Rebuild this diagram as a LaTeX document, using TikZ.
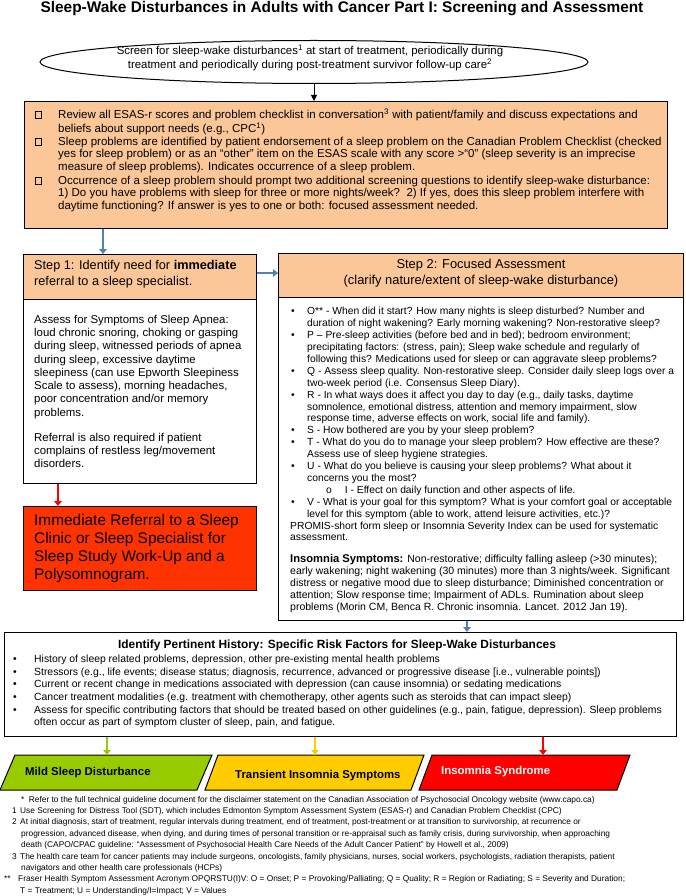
\documentclass[tikz,border=0pt]{standalone}
\usepackage{fontspec}
\setmainfont{Liberation Sans}
\usetikzlibrary{arrows.meta,shapes.geometric}
\definecolor{peach}{HTML}{FBC799}
\definecolor{arrowblue}{HTML}{4F81BD}
\definecolor{alertred}{HTML}{FF3300}
\definecolor{mildgreen}{HTML}{99CC00}
\definecolor{transyellow}{HTML}{FFCC00}
\definecolor{synred}{HTML}{FF0000}
\begin{document}
\begin{tikzpicture}[x=1pt,y=-1pt,
  box/.style={draw=black, line width=1pt, inner sep=0pt, anchor=north west},
  txt/.style={inner sep=0pt, anchor=north west},
  chk/.style={draw=black, line width=0.7pt, minimum size=6.5pt, inner sep=0pt},
  karrow/.style={draw=black, line width=1pt, -{Triangle[width=6pt,length=6pt]}},
  barrow/.style={draw=arrowblue, line width=2.2pt, -{Triangle[width=7.5pt,length=5pt]}},
  carrow/.style={line width=2.2pt, -{Triangle[width=7.5pt,length=5pt]}},
  para/.style={draw=black, line width=1pt}
]
\useasboundingbox (0,0) rectangle (685,896);
\fill[white] (0,0) rectangle (685,896);

% title
\node[inner sep=0pt, font=\fontsize{15.4}{17}\selectfont\bfseries] (title) at (342,9) {Sleep-Wake Disturbances in Adults with Cancer Part I: Screening and Assessment};

% ellipse
\node[draw=black, line width=1pt, ellipse, minimum width=548pt, minimum height=43pt, inner sep=0pt] (ell) at (314,62) {};
\node[inner sep=0pt, font=\fontsize{11.4}{13}\selectfont] (elltext) at (310,58.5) {\begin{tabular}{@{}c@{}}Screen for sleep-wake disturbances\textsuperscript{1} at start of treatment, periodically during\\ treatment and periodically during post-treatment survivor follow-up care\textsuperscript{2}\end{tabular}};

% orange screening box
\node[box, fill=peach, minimum width=643pt, minimum height=127pt] (obox) at (24,101) {};
\draw[karrow] (ell.south) -- (obox.north -| ell.south);
\node[chk] (cb1) at (38.5,115) {};
\node[chk] (cb2) at (38.5,142) {};
\node[chk] (cb3) at (38.5,181) {};
\node[txt, font=\fontsize{11.5}{12.9}\selectfont] (it1) at (58,108.8) {\begin{tabular}{@{}l@{}}Review all ESAS-r scores and problem checklist in conversation\textsuperscript{3} with patient/family and discuss expectations and\\ beliefs about support needs (e.g., CPC\textsuperscript{1})\end{tabular}};
\node[txt, font=\fontsize{11.5}{12.9}\selectfont] (it2) at (58,135.8) {\begin{tabular}{@{}l@{}}Sleep problems are identified by patient endorsement of a sleep problem on the Canadian Problem Checklist (checked\\ yes for sleep problem) or as an “other” item on the ESAS scale with any score >“0” (sleep severity is an imprecise\\ measure of sleep problems). Indicates occurrence of a sleep problem.\end{tabular}};
\node[txt, font=\fontsize{11.5}{12.9}\selectfont] (it3) at (58,174.8) {\begin{tabular}{@{}l@{}}Occurrence of a sleep problem should prompt two additional screening questions to identify sleep-wake disturbance:\\ 1) Do you have problems with sleep for three or more nights/week?\ \ 2) If yes, does this sleep problem interfere with\\ daytime functioning? If answer is yes to one or both: focused assessment needed.\end{tabular}};

% step 1
\node[box, fill=peach, minimum width=233pt, minimum height=45pt] (s1head) at (23,254) {};
\node[box, fill=white, minimum width=233pt, minimum height=184pt] (s1body) at (23,299) {};
\node[txt, font=\fontsize{12.7}{16}\selectfont] (s1htext) at (34,257.9) {\begin{tabular}{@{}l@{}}Step 1: Identify need for \textbf{immediate}\\ referral to a sleep specialist.\end{tabular}};
\node[txt, font=\fontsize{11.4}{13.3}\selectfont] (s1btext) at (34,313.6) {\begin{tabular}{@{}l@{}}Assess for Symptoms of Sleep Apnea:\\ loud chronic snoring, choking or gasping\\ during sleep, witnessed periods of apnea\\ during sleep, excessive daytime\\ sleepiness (can use Epworth Sleepiness\\ Scale to assess), morning headaches,\\ poor concentration and/or memory\\ problems.\\[11.5pt] Referral is also required if patient\\ complains of restless leg/movement\\ disorders.\end{tabular}};
\coordinate (c1) at (103,0);
\draw[barrow] (obox.south -| c1) -- (s1head.north -| c1);

% red referral box
\node[box, fill=alertred, minimum width=233pt, minimum height=84pt] (redbox) at (23,506) {};
\node[txt, font=\fontsize{15.4}{18}\selectfont] (redtext) at (34,512.3) {\begin{tabular}{@{}l@{}}Immediate Referral to a Sleep\\ Clinic or Sleep Specialist for\\ Sleep Study Work-Up and a\\ Polysomnogram.\end{tabular}};
\coordinate (c3) at (58,0);
\draw[carrow, draw=synred] (s1body.south -| c3) -- (redbox.north -| c3);

% step 2
\node[box, fill=peach, minimum width=405pt, minimum height=44pt] (s2head) at (278,253) {};
\node[box, fill=white, minimum width=405pt, minimum height=323pt] (s2body) at (278,297) {};
\node[inner sep=0pt, font=\fontsize{12.9}{16}\selectfont] (s2htext) at (481,273) {\begin{tabular}{@{}c@{}}Step 2: Focused Assessment\\ (clarify nature/extent of sleep-wake disturbance)\end{tabular}};
\coordinate (c2) at (0,273);
\draw[barrow] (s1head.east |- c2) -- (s2head.west |- c2);
\node[txt, font=\fontsize{10.3}{11.9}\selectfont] (s2btext) at (290,306.3) {\begin{tabular}{@{}p{17pt}@{}l@{}}
\hspace{1pt}\textbullet & O** - When did it start? How many nights is sleep disturbed? Number and\\
 & duration of night wakening? Early morning wakening? Non-restorative sleep?\\
\hspace{1pt}\textbullet & P – Pre-sleep activities (before bed and in bed); bedroom environment;\\
 & precipitating factors: (stress, pain); Sleep wake schedule and regularly of\\
 & following this? Medications used for sleep or can aggravate sleep problems?\\
\hspace{1pt}\textbullet & Q - Assess sleep quality. Non-restorative sleep. Consider daily sleep logs over a\\
 & two-week period (i.e. Consensus Sleep Diary).\\
\hspace{1pt}\textbullet & R - In what ways does it affect you day to day (e.g., daily tasks, daytime\\
 & somnolence, emotional distress, attention and memory impairment, slow\\
 & response time, adverse effects on work, social life and family).\\
\hspace{1pt}\textbullet & S - How bothered are you by your sleep problem?\\
\hspace{1pt}\textbullet & T - What do you do to manage your sleep problem? How effective are these?\\
 & Assess use of sleep hygiene strategies.\\
\hspace{1pt}\textbullet & U - What do you believe is causing your sleep problems? What about it\\
 & concerns you the most?\\
 & \hspace{19pt}o\hspace{13pt}I - Effect on daily function and other aspects of life.\\
\hspace{1pt}\textbullet & V - What is your goal for this symptom? What is your comfort goal or acceptable\\
 & level for this symptom (able to work, attend leisure activities, etc.)?\\
\multicolumn{2}{@{}l@{}}{PROMIS-short form sleep or Insomnia Severity Index can be used for systematic}\\
\multicolumn{2}{@{}l@{}}{assessment.}
\end{tabular}};
\node[txt, font=\fontsize{10.5}{12}\selectfont] (insom) at (290,554.2) {\begin{tabular}{@{}l@{}}{\fontsize{11.2}{12}\selectfont\bfseries Insomnia Symptoms:} Non-restorative; difficulty falling asleep (>30 minutes);\\ early wakening; night wakening (30 minutes) more than 3 nights/week. Significant\\ distress or negative mood due to sleep disturbance; Diminished concentration or\\ attention; Slow response time; Impairment of ADLs. Rumination about sleep\\ problems (Morin CM, Benca R. Chronic insomnia. Lancet. 2012 Jan 19).\end{tabular}};

% risk factors
\node[box, fill=white, minimum width=672pt, minimum height=104pt] (risk) at (4,632) {};
\coordinate (c4) at (467,0);
\draw[barrow] (s2body.south -| c4) -- (risk.north -| c4);
\node[anchor=base, inner sep=0pt, font=\fontsize{11.9}{13}\selectfont\bfseries] (risktitle) at (337,648.5) {Identify Pertinent History: Specific Risk Factors for Sleep-Wake Disturbances};
\node[txt, font=\fontsize{10.4}{12.6}\selectfont] (risktext) at (13,653.6) {\begin{tabular}{@{}p{21pt}@{}l@{}}
\textbullet & History of sleep related problems, depression, other pre-existing mental health problems\\
\textbullet & Stressors (e.g., life events; disease status; diagnosis, recurrence, advanced or progressive disease [i.e., vulnerable points])\\
\textbullet & Current or recent change in medications associated with depression (can cause insomnia) or sedating medications\\
\textbullet & Cancer treatment modalities (e.g. treatment with chemotherapy, other agents such as steroids that can impact sleep)\\
\textbullet & Assess for specific contributing factors that should be treated based on other guidelines (e.g., pain, fatigue, depression). Sleep problems\\
 & often occur as part of symptom cluster of sleep, pain, and fatigue.
\end{tabular}};

% outcome shapes
\draw[para, fill=mildgreen] (0,790) -- (15,755) -- (212,755) -- (197,790) -- cycle;
\draw[para, fill=transyellow] (205,790) -- (218,755) -- (424,755) -- (411,790) -- cycle;
\draw[para, fill=synred] (419,790) -- (432,755) -- (630,755) -- (617,790) -- cycle;
\coordinate (mildtop) at (107,755);
\coordinate (transtop) at (315,755);
\coordinate (syntop) at (543,755);
\draw[carrow, draw=mildgreen] (risk.south -| mildtop) -- (mildtop);
\draw[carrow, draw=transyellow] (risk.south -| transtop) -- (transtop);
\draw[carrow, draw=synred] (risk.south -| syntop) -- (syntop);
\node[anchor=base west, inner sep=0pt, font=\fontsize{11.4}{12}\selectfont\bfseries] (mildtext) at (25,775.5) {Mild Sleep Disturbance};
\node[anchor=base west, inner sep=0pt, font=\fontsize{11.4}{12}\selectfont\bfseries] (transtext) at (235,778) {Transient Insomnia Symptoms};
\node[anchor=base west, inner sep=0pt, font=\fontsize{11.4}{12}\selectfont\bfseries, text=white] (syntext) at (441,774.5) {Insomnia Syndrome};

% footnotes
\node[txt, font=\fontsize{8.35}{11.4}\selectfont] (notes) at (4,794) {\begin{tabular}{@{}p{16pt}@{}l@{}}
 & \hspace{1pt}*\hspace{4.5pt}Refer to the full technical guideline document for the disclaimer statement on the Canadian Association of Psychosocial Oncology website (www.capo.ca)\\
\hspace{8pt}1 & Use Screening for Distress Tool (SDT), which includes Edmonton Symptom Assessment System (ESAS-r) and Canadian Problem Checklist (CPC)\\
\hspace{8pt}2 & At initial diagnosis, start of treatment, regular intervals during treatment, end of treatment, post-treatment or at transition to survivorship, at recurrence or\\
 & \hspace{1pt}progression, advanced disease, when dying, and during times of personal transition or re-appraisal such as family crisis, during survivorship, when approaching\\
 & \hspace{1pt}death (CAPO/CPAC guideline: “Assessment of Psychosocial Health Care Needs of the Adult Cancer Patient” by Howell et al., 2009)\\
\hspace{8pt}3 & The health care team for cancer patients may include surgeons, oncologists, family physicians, nurses, social workers, psychologists, radiation therapists, patient\\
 & \hspace{1pt}navigators and other health care professionals (HCPs)\\
\relax{**} & \hspace{-2pt}Fraser Health Symptom Assessment Acronym OPQRSTU(I)V: O = Onset; P = Provoking/Palliating; Q = Quality; R = Region or Radiating; S = Severity and Duration;\\
 & T = Treatment; U = Understanding/I=Impact; V = Values
\end{tabular}};
\end{tikzpicture}
\end{document}
